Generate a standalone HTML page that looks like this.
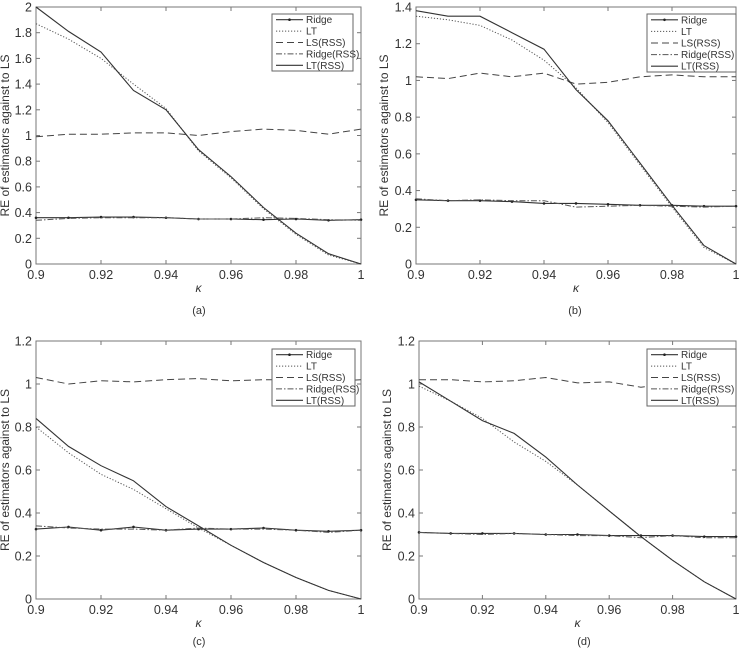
<!DOCTYPE html>
<html><head><meta charset="utf-8"><style>
body{margin:0;background:#fff;width:750px;height:660px;overflow:hidden}
svg{display:block}
text{font-family:"Liberation Sans",Arial,sans-serif;fill:#333}
</style></head><body>
<svg id="c" width="750" height="660"></svg>
<script>
const xVals=[0.90,0.91,0.92,0.93,0.94,0.95,0.96,0.97,0.98,0.99,1.00];
const seriesNames=["Ridge","LT","LS(RSS)","Ridge(RSS)","LT(RSS)"];
const aRidge=[0.36,0.36,0.365,0.365,0.36,0.35,0.35,0.345,0.35,0.34,0.345];
const aLT=[1.87,1.75,1.6,1.4,1.21,0.88,0.67,0.43,0.23,0.07,0.0];
const aLS=[0.99,1.01,1.01,1.02,1.02,1.0,1.03,1.05,1.04,1.01,1.05];
const aRidgeRSS=[0.34,0.355,0.36,0.36,0.36,0.35,0.35,0.36,0.355,0.345,0.34];
const aLTRSS=[2.0,1.81,1.65,1.35,1.2,0.89,0.68,0.44,0.24,0.08,0.0];
const bRidge=[0.35,0.345,0.345,0.34,0.33,0.33,0.325,0.32,0.32,0.315,0.315];
const bLT=[1.35,1.33,1.30,1.22,1.11,0.96,0.77,0.54,0.31,0.09,0];
const bLS=[1.02,1.01,1.04,1.02,1.04,0.98,0.99,1.02,1.03,1.02,1.02];
const bRidgeRSS=[0.355,0.345,0.35,0.345,0.345,0.31,0.315,0.32,0.315,0.31,0.315];
const bLTRSS=[1.38,1.35,1.35,1.26,1.17,0.95,0.78,0.55,0.32,0.1,0];
const cRidge=[0.325,0.335,0.32,0.335,0.32,0.325,0.325,0.33,0.32,0.315,0.32];
const cLT=[0.8,0.68,0.58,0.51,0.42,0.33,0.25,0.17,0.1,0.04,0];
const cLS=[1.03,1.0,1.015,1.01,1.02,1.025,1.015,1.02,1.02,1.01,1.02];
const cRidgeRSS=[0.34,0.33,0.325,0.325,0.32,0.33,0.325,0.325,0.32,0.31,0.32];
const cLTRSS=[0.84,0.71,0.62,0.55,0.43,0.34,0.25,0.17,0.1,0.04,0];
const dRidge=[0.31,0.305,0.305,0.305,0.3,0.3,0.295,0.295,0.295,0.29,0.29];
const dLT=[0.99,0.92,0.84,0.73,0.64,0.53,0.41,0.29,0.18,0.08,0];
const dLS=[1.02,1.02,1.01,1.015,1.03,1.005,1.01,0.985,1.0,1.0,1.01];
const dRidgeRSS=[0.31,0.305,0.3,0.305,0.3,0.295,0.295,0.285,0.295,0.285,0.285];
const dLTRSS=[1.01,0.92,0.83,0.77,0.66,0.53,0.41,0.29,0.18,0.08,0];
const xTicks=[0.9,0.92,0.94,0.96,0.98,1];
const xTickLabels=["0.9","0.92","0.94","0.96","0.98","1"];
const yTicksA=[0,0.2,0.4,0.6,0.8,1,1.2,1.4,1.6,1.8,2];
const yTickLabelsA=["0","0.2","0.4","0.6","0.8","1","1.2","1.4","1.6","1.8","2"];
const yTicksB=[0,0.2,0.4,0.6,0.8,1,1.2,1.4];
const yTickLabelsB=["0","0.2","0.4","0.6","0.8","1","1.2","1.4"];
const yTicksC=[0,0.2,0.4,0.6,0.8,1,1.2];
const yTickLabelsC=["0","0.2","0.4","0.6","0.8","1","1.2"];

const NS="http://www.w3.org/2000/svg";
const svg=document.getElementById('c');
function mk(tag,attrs,parent){const e=document.createElementNS(NS,tag);for(const k in attrs)e.setAttribute(k,attrs[k]);(parent||svg).appendChild(e);return e;}
const styles=[
 {dash:"",w:1.1,c:"#333"},
 {dash:"1.2,1.8",w:1,c:"#555"},
 {dash:"7,4",w:1,c:"#444"},
 {dash:"6,2,1.5,2",w:1,c:"#555"},
 {dash:"",w:1.1,c:"#333"}];

const panels=[
 {id:"a",x0:36,x1:361,y0:7,y1:264,ymax:2,yt:yTicksA,ytl:yTickLabelsA,s:[aRidge,aLT,aLS,aRidgeRSS,aLTRSS],leg:[272,14,353,71],cap:[199,314]},
 {id:"b",x0:416,x1:736,y0:7,y1:264,ymax:1.4,yt:yTicksB,ytl:yTickLabelsB,s:[bRidge,bLT,bLS,bRidgeRSS,bLTRSS],leg:[647,14,736,72],cap:[575,314]},
 {id:"c",x0:36,x1:361,y0:341,y1:599,ymax:1.2,yt:yTicksC,ytl:yTickLabelsC,s:[cRidge,cLT,cLS,cRidgeRSS,cLTRSS],leg:[272,349,355,406],cap:[199,645]},
 {id:"d",x0:419,x1:736,y0:341,y1:599,ymax:1.2,yt:yTicksC,ytl:yTickLabelsC,s:[dRidge,dLT,dLS,dRidgeRSS,dLTRSS],leg:[647,349,736,406],cap:[584,645]}];

panels.forEach(p=>{
 const g=mk('g',{});
 
 
 const sx=v=>p.x0+(v-0.9)/0.1*(p.x1-p.x0);
 const sy=v=>p.y1-v/p.ymax*(p.y1-p.y0);
 const box=mk('rect',{x:p.x0,y:p.y0,width:p.x1-p.x0,height:p.y1-p.y0,fill:"none",stroke:"#777","stroke-width":1},g);
 
 
 xTicks.forEach((t,i)=>{
  const X=sx(t);
  mk('line',{x1:X,x2:X,y1:p.y1,y2:p.y1-4,stroke:"#777"},g);
  mk('line',{x1:X,x2:X,y1:p.y0,y2:p.y0+4,stroke:"#777"},g);
  const tx=mk('text',{x:X,y:p.y1+15,"font-size":12.5,"text-anchor":"middle"},g);
  tx.textContent=xTickLabels[i];
  
  
 });
 p.yt.forEach((t,i)=>{
  const Y=sy(t);
  mk('line',{x1:p.x0,x2:p.x0+4,y1:Y,y2:Y,stroke:"#777"},g);
  mk('line',{x1:p.x1,x2:p.x1-4,y1:Y,y2:Y,stroke:"#777"},g);
  const tx=mk('text',{x:p.x0-4,y:Y+4.5,"font-size":12.5,"text-anchor":"end"},g);
  tx.textContent=p.ytl[i];
  
  
 });
 const xl=mk('text',{x:(p.x0+p.x1)/2,y:p.y1+28,"font-size":12,"font-style":"italic","text-anchor":"middle","font-family":"Liberation Serif,serif"},g);
 xl.textContent="κ";
 
 
 const yx=p.x0-(p.id==="a"||p.id==="c"?27:28);
 const yl=mk('text',{x:yx,y:(p.y0+p.y1)/2,"font-size":12,"text-anchor":"middle",transform:`rotate(-90 ${yx} ${(p.y0+p.y1)/2})`},g);
 yl.textContent="RE of estimators against to LS";
 
 
 const cap=mk('text',{x:p.cap[0],y:p.cap[1],"font-size":11,"text-anchor":"middle"},g);
 cap.textContent="("+p.id+")";
 
 
 p.s.forEach((arr,si)=>{
  const st=styles[si];
  const pts=arr.map((v,i)=>sx(xVals[i]).toFixed(1)+","+sy(v).toFixed(1)).join(" ");
  const pl=mk('polyline',{points:pts,fill:"none",stroke:st.c,"stroke-width":st.w,"stroke-dasharray":st.dash},g);
  
  
  if(si===0){arr.forEach((v,i)=>{
   const m=mk('circle',{cx:sx(xVals[i]),cy:sy(v),r:1.3,fill:"#222"},g);
   
   
  });}
 });
 const [lx0,ly0,lx1,ly1]=p.leg;
 const lg=mk('g',{},g);
 
 
 mk('rect',{x:lx0,y:ly0,width:lx1-lx0,height:ly1-ly0,fill:"#fff",stroke:"#666"},lg);
 const rowH=(ly1-ly0)/5;
 seriesNames.forEach((n,si)=>{
  const st=styles[si];
  const Y=ly0+rowH*(si+0.5);
  mk('line',{x1:lx0+4,x2:lx0+31,y1:Y,y2:Y,stroke:st.c,"stroke-width":st.w,"stroke-dasharray":st.dash},lg);
  if(si===0)mk('circle',{cx:lx0+17.5,cy:Y,r:1.3,fill:"#222"},lg);
  const t=mk('text',{x:lx0+34,y:Y+3.5,"font-size":10},lg);
  t.textContent=n;
  
  
 });
});
</script>
</body></html>
